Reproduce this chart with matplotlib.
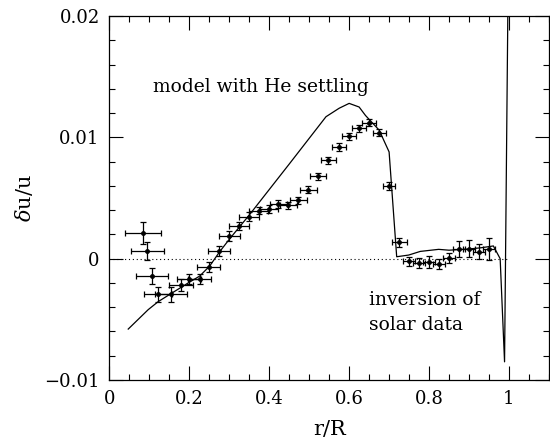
"""delta u/u : solar inversion vs. model with He settling."""
import numpy as np
import matplotlib
matplotlib.use("Agg")
import matplotlib.pyplot as plt
from matplotlib.ticker import MultipleLocator, FixedLocator, FixedFormatter

plt.rcParams["font.family"] = ["DejaVu Serif"]
plt.rcParams["mathtext.fontset"] = "dejavuserif"

# inversion of solar data
r_obs = [0.084, 0.095, 0.107, 0.122, 0.153, 0.180, 0.198, 0.226, 0.248, 0.274,
         0.300, 0.324, 0.349, 0.374, 0.399, 0.423, 0.448, 0.473, 0.498, 0.523,
         0.548, 0.575, 0.600, 0.625, 0.650, 0.675, 0.700, 0.726, 0.749, 0.776,
         0.801, 0.826, 0.849, 0.874, 0.899, 0.924, 0.949]
du_obs = [0.0021, 0.00066, -0.00143, -0.00294, -0.00294, -0.00217, -0.0017,
          -0.0017, -0.0007, 0.00064, 0.00187, 0.0027, 0.00346, 0.00396, 0.0041,
          0.0045, 0.0044, 0.0048, 0.0057, 0.0068, 0.0081, 0.0092, 0.0101,
          0.01075, 0.0112, 0.0104, 0.0060, 0.00135, -0.0002, -0.00033,
          -0.00025, -0.00044, 0.00003, 0.0008, 0.0008, 0.00058, 0.0008]
r_err = [0.045, 0.042, 0.040, 0.035, 0.040, 0.030, 0.030, 0.029, 0.029, 0.027,
         0.027, 0.026, 0.025, 0.024, 0.023, 0.022, 0.022, 0.021, 0.021, 0.020,
         0.019, 0.018, 0.018, 0.017, 0.017, 0.016, 0.016, 0.018, 0.015, 0.015,
         0.015, 0.015, 0.015, 0.015, 0.015, 0.015, 0.015]
du_err = [0.0009, 0.00075, 0.00065, 0.0006, 0.0006, 0.0005, 0.0004, 0.0004,
          0.0004, 0.0004, 0.0004, 0.00035, 0.00035, 0.0003, 0.0003, 0.0003,
          0.0003, 0.0003, 0.0003, 0.0003, 0.0003, 0.0003, 0.0003, 0.0003,
          0.0003, 0.0003, 0.0003, 0.00037, 0.00037, 0.0004, 0.0005, 0.0004,
          0.0004, 0.00062, 0.0007, 0.0006, 0.00087]

# model with He settling
r_mod = [0.047, 0.097, 0.122, 0.155, 0.197, 0.226, 0.251, 0.276, 0.300, 0.350,
         0.450, 0.542, 0.575, 0.600, 0.625, 0.641, 0.675, 0.700, 0.719, 0.749,
         0.778, 0.824, 0.850, 0.900, 0.930, 0.961, 0.978, 0.989, 1.000]
du_mod = [-0.0058, -0.0042, -0.00354, -0.00286, -0.0020, -0.00143, -0.0006,
          0.00058, 0.0016, 0.0036, 0.0078, 0.0117, 0.0124, 0.0128, 0.0125,
          0.0118, 0.0106, 0.0088, 0.00016, 0.0003, 0.0006, 0.00077, 0.0007,
          0.0008, 0.0009, 0.00105, 0.0, -0.0085, 0.03]

fig = plt.figure(figsize=(5.5, 4.45), dpi=100)
ax = fig.add_axes([0.199, 0.146, 0.799, 0.818])

ax.plot([0, 1.0], [0, 0], ls=(0, (1, 2.5)), color="k", lw=0.8)
ax.plot(r_mod, du_mod, color="k", lw=0.9)
ax.errorbar(r_obs, du_obs, xerr=r_err, yerr=du_err, fmt="o", ms=2.5,
            color="k", ecolor="k", elinewidth=0.9, capsize=2.5, capthick=0.9)

ax.text(0.108, 0.01415, "model with He settling", fontsize=13.5, va="center")
ax.text(0.65, -0.0034, "inversion of", fontsize=13.5, va="center")
ax.text(0.65, -0.0055, "solar data", fontsize=13.5, va="center")

ax.set_xlim(0, 1.1)
ax.set_ylim(-0.01, 0.02)
ax.xaxis.set_major_locator(FixedLocator([0, 0.2, 0.4, 0.6, 0.8, 1.0]))
ax.xaxis.set_major_formatter(FixedFormatter(["0", "0.2", "0.4", "0.6", "0.8", "1"]))
ax.xaxis.set_minor_locator(MultipleLocator(0.05))
ax.yaxis.set_major_locator(FixedLocator([-0.01, 0, 0.01, 0.02]))
ax.yaxis.set_major_formatter(FixedFormatter(["\u22120.01", "0", "0.01", "0.02"]))
ax.yaxis.set_minor_locator(MultipleLocator(0.002))
ax.tick_params(which="both", direction="in", top=True, right=True,
               labelsize=13, width=0.8)
ax.tick_params(which="major", length=10, pad=7)
ax.tick_params(which="minor", length=4.3)
for s in ax.spines.values():
    s.set_linewidth(0.9)

ax.set_xlabel("r/R", fontsize=15, labelpad=9)
ax.set_ylabel(r"$\delta$u/u", fontsize=15, labelpad=7)

fig.savefig("out.png", dpi=100)
